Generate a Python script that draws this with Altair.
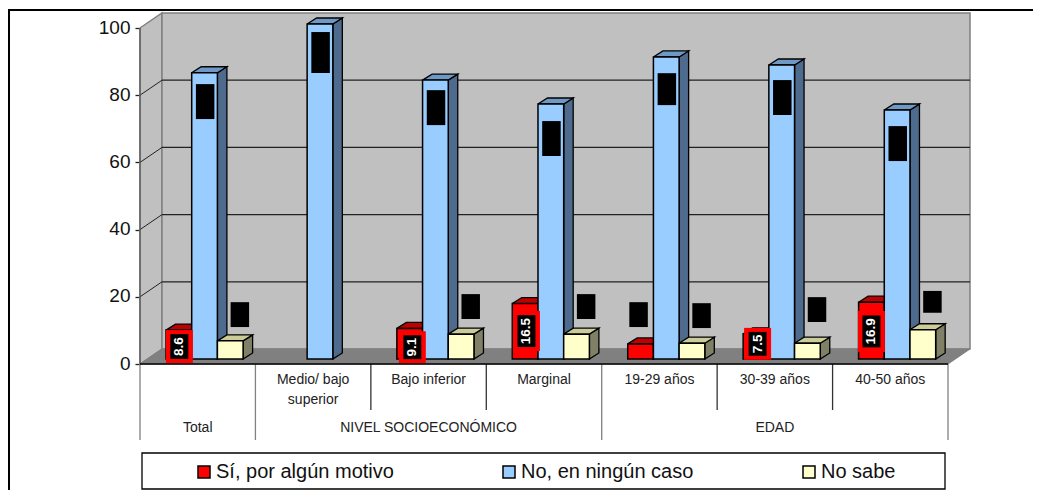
import altair as alt
import pandas as pd

# ---- values
CATEGORY_LINES = [[""], ["Medio/ bajo", "superior"], ["Bajo inferior"], ["Marginal"], ["19-29 años"], ["30-39 años"], ["40-50 años"]]
SERIES = ["Sí, por algún motivo", "No, en ningún caso", "No sabe"]
SI = [8.6, 0, 9.1, 16.5, 4.5, 7.5, 16.9]
NO = [85.2, 99.7, 83.0, 75.9, 89.9, 87.5, 74.1]
NS = [5.4, 0, 7.4, 7.4, 4.7, 4.7, 8.7]
GROUPS = ["Total", "NIVEL SOCIOECONÓMICO", "EDAD"]
GROUP_SPANS = [(0, 1), (1, 4), (4, 7)]
Y_TICKS = [0, 20, 40, 60, 80, 100]
# redacted (black) label boxes: category index, series index, centre value, height in value units
HIDDEN = [
    (0, 1, 78.1, 10.4), (1, 1, 92.7, 12.2), (2, 1, 76.3, 10.4), (3, 1, 67.1, 10.4),
    (4, 1, 81.8, 9.5), (5, 1, 79.3, 10.4), (6, 1, 65.6, 10.4),
    (0, 2, 14.7, 7.4), (2, 2, 17.1, 7.4), (3, 2, 17.1, 7.4), (4, 2, 14.4, 7.4),
    (5, 2, 16.2, 7.4), (6, 2, 18.5, 6.5), (4, 0, 14.7, 7.4),
]
# visible labels of the first series: category, text, centre value, black height, frame height, x shift
SHOWN = [
    (0, "8.6", 5.2, 7.4, 9.8, 0.5),
    (2, "9.1", 5.0, 7.1, 9.5, 2.6),
    (3, "16.5", 9.8, 9.5, 11.9, 1.3),
    (5, "7.5", 6.0, 7.1, 9.5, 1.6),
    (6, "16.9", 9.7, 9.5, 12.2, 0.0),
]

# ---- geometry in data units (category widths and percentage points)
PX_X = 115.43          # pixels per category
PX_Y = 3.36            # pixels per percentage point
X0, Y0 = 140.0, 364.0  # page pixel of the axes origin
W, H = 1025, 482
def ux(px): return (px - X0) / PX_X
def uy(py): return (Y0 - py) / PX_Y

WALL_DX, WALL_DY = 22 / PX_X, 15 / PX_Y
BAR_DX, BAR_DY = 6 / PX_X, 5 / PX_Y        # front plane of the bars on the floor
D_X, D_Y = 9.5 / PX_X, 6 / PX_Y            # bar depth
BAR_START = 20 / PX_X
BAR_W = 25.7 / PX_X
TOP = 100
NX = 7.0

x_scale = alt.Scale(domain=[ux(8), ux(8 + W)], range=[0, W], nice=False, zero=False)
y_scale = alt.Scale(domain=[uy(8 + H), uy(8)], range=[H, 0], nice=False, zero=False)
Y_AXIS = alt.Axis(
    values=Y_TICKS, orient="left", offset=-(X0 - 8), domain=False, grid=False, title=None,
    tickColor="#222222", tickSize=5, tickWidth=1.3,
    labelFont="Liberation Sans", labelFontSize=19, labelColor="#111111", labelPadding=5, labelOffset=-1,
)
def X(f): return alt.X(f, type="quantitative", scale=x_scale, axis=None)
def Y(f): return alt.Y(f, type="quantitative", scale=y_scale, axis=Y_AXIS)


def poly_layer(polys, fill, stroke, sw=1.3):
    """polys: list of point lists (x, y); each is closed and filled"""
    rows = []
    for i, p in enumerate(polys):
        for k, (x, y) in enumerate(list(p) + [p[0]]):
            rows.append({"id": i, "k": k, "x": x, "y": y})
    return (
        alt.Chart(pd.DataFrame(rows))
        .mark_line(fill=fill, stroke=stroke, strokeWidth=sw, interpolate="linear", strokeJoin="miter")
        .encode(x=X("x"), y=Y("y"), detail="id:N", order=alt.Order("k:Q"))
    )


def rect_layer(rows, fill, stroke=None, sw=0):
    kw = {"stroke": stroke, "strokeWidth": sw} if stroke else {"strokeWidth": 0}
    return (
        alt.Chart(pd.DataFrame(rows))
        .mark_rect(fill=fill, **kw)
        .encode(x=X("x"), x2="x2:Q", y=Y("y"), y2="y2:Q")
    )


def rule_layer(rows, color, sw):
    return (
        alt.Chart(pd.DataFrame(rows))
        .mark_rule(color=color, strokeWidth=sw)
        .encode(x=X("x"), x2="x2:Q", y=Y("y"), y2="y2:Q")
    )


layers = []

# legend frame, under the legend entries
layers.append(rect_layer([{"x": ux(142), "x2": ux(945), "y": uy(453), "y2": uy(489)}], "#ffffff", "#000000", 1.3))

# outer border: only top and left edges are inside the picture
layers.append(rule_layer([{"x": ux(8), "x2": ux(1033), "y": uy(10), "y2": uy(10)}], "#000000", 2))
layers.append(rule_layer([{"x": ux(9), "x2": ux(9), "y": uy(10), "y2": uy(490)}], "#000000", 2))

# walls and floor
bx0, bx1 = WALL_DX, NX + WALL_DX
layers.append(poly_layer([[(0, TOP), (WALL_DX, TOP + WALL_DY), (WALL_DX, WALL_DY), (0, 0)]], "#c0c0c0", "#808080", 1.5))
layers.append(rect_layer([{"x": bx0, "x2": bx1, "y": WALL_DY, "y2": TOP + WALL_DY}], "#c0c0c0", "#808080", 1.5))
layers.append(poly_layer([[(0, 0), (WALL_DX, WALL_DY), (bx1, WALL_DY), (NX, 0)]], "#808080", "#808080", 1))

# gridlines on the walls
grid = [{"x": bx0, "x2": bx1, "y": t + WALL_DY, "y2": t + WALL_DY} for t in Y_TICKS[1:-1]]
layers.append(rule_layer(grid, "#222222", 1.2))
diag = alt.Chart(pd.DataFrame(
    [{"id": t, "x": 0, "y": t} for t in Y_TICKS[1:-1]] + [{"id": t, "x": WALL_DX, "y": t + WALL_DY} for t in Y_TICKS[1:-1]]
)).mark_line(color="#222222", strokeWidth=1).encode(x=X("x"), y=Y("y"), detail="id:N")
layers.append(diag)
layers.append(rule_layer([{"x": 0, "x2": 0, "y": 0, "y2": TOP}], "#555555", 1.2))

# bars
SIDE = ["#a00000", "#4e6a8c", "#808066"]
ROOF = ["#c00000", "#6d99c4", "#cccc99"]
FRONT = ["#ff0000", "#99ccff", "#ffffcc"]
VALUES = [SI, NO, NS]


def bar_left(c, s):
    return c + BAR_START + BAR_DX + s * BAR_W


bar_rows, side_polys, roof_polys = [], [[], [], []], [[], [], []]
for s in range(3):
    for c, v in enumerate(VALUES[s]):
        if v == 0:
            continue
        l = bar_left(c, s)
        r = l + BAR_W
        b = BAR_DY
        t = v + BAR_DY
        bar_rows.append({"x": l, "x2": r, "y": b, "y2": t, "series": SERIES[s], "c": c, "s": s})
        side_polys[s].append([(r, t), (r + D_X, t + D_Y), (r + D_X, b + D_Y), (r, b)])
        roof_polys[s].append([(l, t), (l + D_X, t + D_Y), (r + D_X, t + D_Y), (r, t)])
bars_df = pd.DataFrame(bar_rows)

legend = alt.Legend(
    title=None, orient="none", legendX=186, legendY=454, direction="horizontal", columns=3,
    symbolType="square", symbolSize=144, symbolStrokeColor="#000000", symbolStrokeWidth=1.5, symbolOpacity=1,
    labelFont="Liberation Sans", labelFontSize=20, labelColor="#111111", columnPadding=105,
    gridAlign="none", labelOffset=2, padding=0, labelLimit=300,
)
colour = alt.Color("series:N", scale=alt.Scale(domain=SERIES, range=FRONT), legend=legend)

for s in [0, 1, 2]:
    layers.append(poly_layer(side_polys[s], SIDE[s], "#000000"))
    layers.append(poly_layer(roof_polys[s], ROOF[s], "#000000"))
    layers.append(
        alt.Chart(bars_df[bars_df.s == s]).mark_rect(stroke="#000000", strokeWidth=1.5)
        .encode(x=X("x"), x2="x2:Q", y=Y("y"), y2="y2:Q", color=colour)
    )

# redacted labels
LBL_W = 18.5 / PX_X
HIDDEN_SHIFT = [-2 / PX_X, 0.6 / PX_X, 9.6 / PX_X]
hidden_rows = []
for c, s, centre, h in HIDDEN:
    lc = bar_left(c, s) + BAR_W / 2 + HIDDEN_SHIFT[s]
    hidden_rows.append({"x": lc - LBL_W / 2, "x2": lc + LBL_W / 2, "y": centre - h / 2, "y2": centre + h / 2})
layers.append(rect_layer(hidden_rows, "#000000"))

# visible labels with their red frames
frame_rows, black_rows, text_rows = [], [], []
for c, txt, cy, h, fh, shift in SHOWN:
    xc = bar_left(c, 0) + BAR_W / 2 + shift / PX_X
    bw = 18 / PX_X
    fw = 27 / PX_X
    frame_rows.append({"x": xc - fw / 2, "x2": xc + fw / 2, "y": cy - fh / 2, "y2": cy + fh / 2})
    black_rows.append({"x": xc - bw / 2, "x2": xc + bw / 2, "y": cy - h / 2, "y2": cy + h / 2})
    text_rows.append({"x": xc, "y": cy, "t": txt})
layers.append(rect_layer(frame_rows, "#ff0000"))
layers.append(rect_layer(black_rows, "#000000"))
layers.append(
    alt.Chart(pd.DataFrame(text_rows))
    .mark_text(font="Liberation Sans", fontSize=13.5, fontWeight="bold", color="#ffffff", angle=270, baseline="middle", align="center")
    .encode(x=X("x"), y=Y("y"), text="t:N")
)

# table under the axis
CELL_BOTTOM_INNER = uy(410)
CELL_BOTTOM = uy(440)
layers.append(rule_layer([{"x": k, "x2": k, "y": 0, "y2": CELL_BOTTOM} for k in (0, 1, 4, 7)], "#808080", 1.3))
layers.append(rule_layer([{"x": k, "x2": k, "y": 0, "y2": CELL_BOTTOM_INNER} for k in (2, 3, 5, 6)], "#333333", 1.3))
layers.append(rule_layer([{"x": 0, "x2": NX, "y": 0, "y2": 0}], "#000000", 1.5))

label_rows = []
for i, lines in enumerate(CATEGORY_LINES):
    for j, ln in enumerate(lines):
        if ln:
            label_rows.append({"x": i + 0.5, "y": uy(380 + j * 19.5), "t": ln})
for g, (a, b) in zip(GROUPS, GROUP_SPANS):
    label_rows.append({"x": (a + b) / 2, "y": uy(428), "t": g})
layers.append(
    alt.Chart(pd.DataFrame(label_rows))
    .mark_text(font="Liberation Sans", fontSize=14, color="#222222", baseline="middle", align="center")
    .encode(x=X("x"), y=Y("y"), text="t:N")
)

chart = (
    alt.layer(*layers)
    .properties(width=W, height=H, padding=0, autosize=alt.AutoSizeParams(type="none"), background="#ffffff")
    .configure_view(stroke=None)
)

chart.save("out.html", embed_options={"renderer": "svg", "actions": False})
